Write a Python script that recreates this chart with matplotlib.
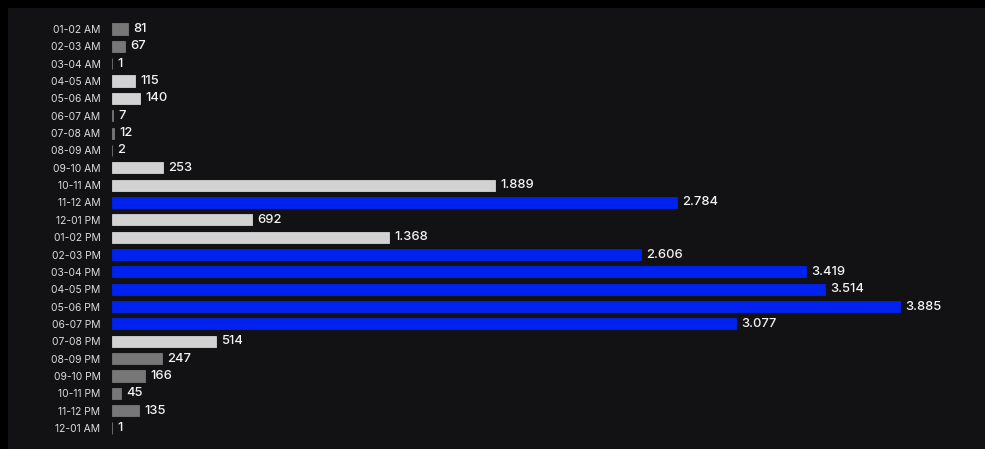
import matplotlib.pyplot as plt
from matplotlib.patches import Rectangle

plt.rcParams['font.family'] = ['Inter', 'DejaVu Sans']

# Daten
hours = ['01-02 AM', '02-03 AM', '03-04 AM', '04-05 AM', '05-06 AM', '06-07 AM',
         '07-08 AM', '08-09 AM', '09-10 AM', '10-11 AM', '11-12 AM', '12-01 PM',
         '01-02 PM', '02-03 PM', '03-04 PM', '04-05 PM', '05-06 PM', '06-07 PM',
         '07-08 PM', '08-09 PM', '09-10 PM', '10-11 PM', '11-12 PM', '12-01 AM']
values = [81, 67, 1, 115, 140, 7, 12, 2, 253, 1889, 2784, 692,
          1368, 2606, 3419, 3514, 3885, 3077, 514, 247, 166, 45, 135, 1]
# Gruppe: 0 = dunkelgrau, 1 = hellgrau, 2 = blau
groups = [0, 0, 0, 1, 1, 0, 0, 0, 1, 1, 2, 1,
          1, 2, 2, 2, 2, 2, 1, 0, 0, 0, 0, 0]

group_colors = {0: '#777777', 1: '#d2d2d2', 2: '#0022ee'}
colors = [group_colors[g] for g in groups]

W, H = 985, 449
fig = plt.figure(figsize=(W / 100, H / 100), dpi=100, facecolor='#000000')
fig.add_artist(Rectangle((8 / W, 0), 1, 1 - 8 / H, transform=fig.transFigure,
                         facecolor='#121214', edgecolor='none', zorder=-10))

ax = fig.add_axes([111.5 / W, 1 - 436.7 / H, (W - 111.5) / W, (436.7 - 20.3) / H])
ax.set_facecolor('none')
ax.set_zorder(5)

y = list(range(len(hours)))
ax.barh(y, values, height=0.64, color=colors, edgecolor=colors, linewidth=0.6)

for yi, v in zip(y, values):
    label = f'{v:,}'.replace(',', '.')
    ax.annotate(label, (v, yi), xytext=(4, 0), textcoords='offset points',
                va='center', ha='left', color='#f4f4f4', fontsize=9.3, fontweight='medium')

ax.set_xlim(0, 4303)
ax.set_ylim(len(hours) - 0.5, -0.5)
ax.set_yticks(y)
ax.set_yticklabels(hours, fontsize=7.4, color='#dcdcdc')
ax.tick_params(axis='y', length=0, pad=8)
ax.set_xticks([])
for s in ax.spines.values():
    s.set_visible(False)

fig.savefig('out.png', dpi=100, facecolor=fig.get_facecolor())
